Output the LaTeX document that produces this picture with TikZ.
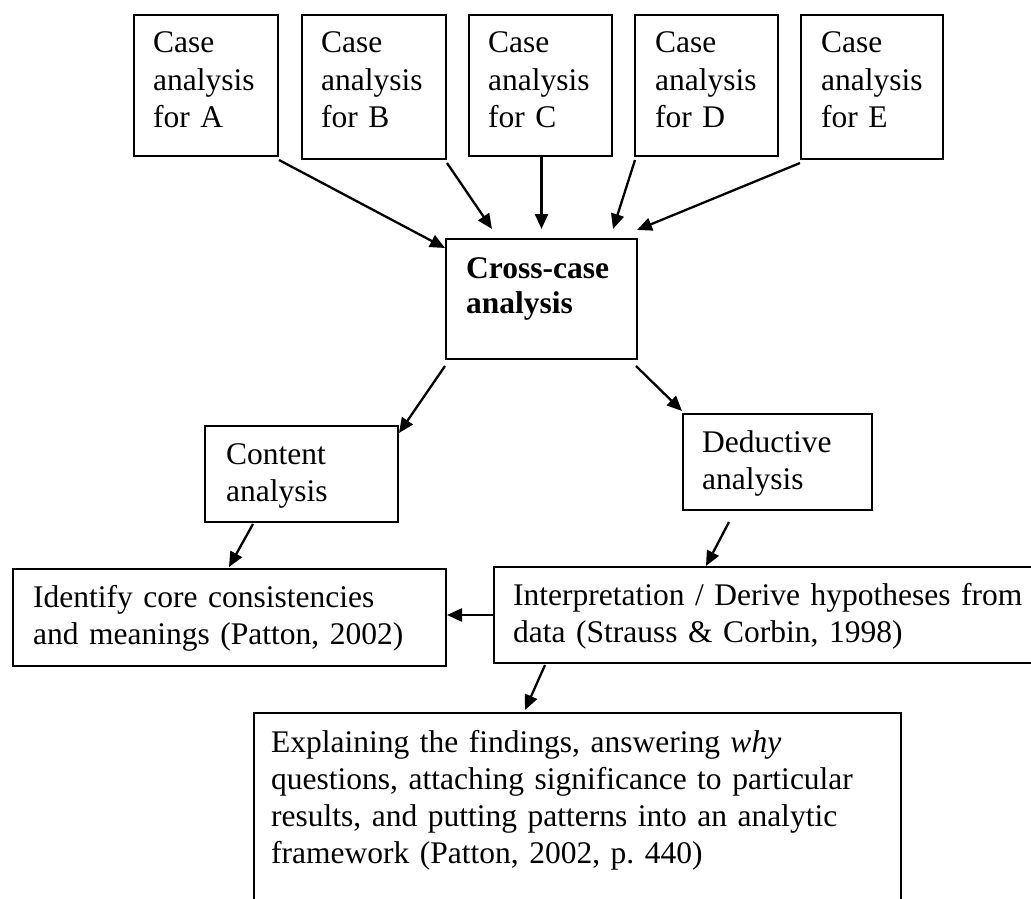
\documentclass[tikz,border=0pt]{standalone}
\usepackage{fontspec}
\setmainfont{Liberation Serif}
\usetikzlibrary{arrows.meta}
\newcommand\diagfont{\fontsize{31.5}{37}\selectfont}
\frenchspacing
\begin{document}
\begin{tikzpicture}[x=1pt,y=-1pt,
  box/.style={draw=black,line width=2pt,inner sep=0pt,anchor=north west},
  txt/.style={anchor=base west,inner sep=0pt,align=left,text width=#1,font=\diagfont},
  txt/.default=200pt,
  arr/.style={line width=2.3pt,-{Triangle[length=15pt,width=13pt]}}]
\clip (0,0) rectangle (1031,899);

% upper row: one box per case
\node[box,minimum width=144pt,minimum height=141pt] (A) at (133,14) {};
\node[box,minimum width=144pt,minimum height=144pt] (B) at (301,14) {};
\node[box,minimum width=143pt,minimum height=141pt] (C) at (468,14) {};
\node[box,minimum width=143pt,minimum height=141pt] (D) at (634,14) {};
\node[box,minimum width=142pt,minimum height=144pt] (E) at (800,14) {};
\node[txt] (tA) at (153,53) {Case\\analysis\\for A};
\node[txt] (tB) at (321,53) {Case\\analysis\\for B};
\node[txt] (tC) at (488,53) {Case\\analysis\\for C};
\node[txt] (tD) at (655,53) {Case\\analysis\\for D};
\node[txt] (tE) at (821,53) {Case\\analysis\\for E};

% central box
\node[box,minimum width=191pt,minimum height=120pt] (X) at (445,238) {};
\node[txt,font=\fontsize{31.5}{35}\selectfont\bfseries] (tX) at (466,278) {Cross-case\\analysis};

% the two kinds of analysis
\node[box,minimum width=193pt,minimum height=96pt] (Co) at (204,425) {};
\node[txt] (tCo) at (226,464) {Content\\analysis};
\node[box,minimum width=189pt,minimum height=96pt] (De) at (682,413) {};
\node[txt] (tDe) at (702,452) {Deductive\\analysis};

% outcomes
\node[box,minimum width=433pt,minimum height=97pt] (Id) at (12,568) {};
\node[txt=420pt] (tId) at (33,607) {Identify core consistencies\\and meanings (Patton, 2002)};
\node[box,minimum width=547pt,minimum height=96pt] (In) at (493,566) {};
\node[txt=520pt] (tIn) at (513,605) {Interpretation / Derive hypotheses from\\data (Strauss \& Corbin, 1998)};
\node[box,minimum width=647pt,minimum height=220pt] (Ex) at (253,712) {};
\node[txt=620pt] (tEx) at (271,752) {Explaining the findings, answering \textit{why}\\questions, attaching significance to particular\\results, and putting patterns into an analytic\\framework (Patton, 2002, p. 440)};

% connectors
\draw[arr] ([shift={(0,3)}]A.south east) -- ([shift={(0,10)}]X.north west);
\draw[arr] ([shift={(0,3)}]B.south east) -- ([shift={(47,-9)}]X.north west);
\draw[arr] ([shift={(1,0)}]C.south) -- ([shift={(1,-9)}]C.south |- X.north);
\draw[arr] ([shift={(1,3)}]D.south west) -- ([shift={(-25,-9)}]X.north east);
\draw[arr] ([shift={(0,3)}]E.south west) -- ([shift={(-1,-8)}]X.north east);
\draw[arr] ([shift={(0,6)}]X.south west) -- ([shift={(0,8)}]Co.north east);
\draw[arr] ([shift={(-2,6)}]X.south east) -- ([shift={(0,-2)}]De.north west);
\draw[arr] ([shift={(49,1)}]Co.south west) -- ([shift={(217,-1)}]Id.north west);
\draw[arr] ([shift={(47,11)}]De.south west) -- ([shift={(213,0)}]In.north west);
\draw[arr] (In.west) -- (In.west -| Id.east);
\draw[arr] ([shift={(52,1)}]In.south west) -- ([shift={(272,-2)}]Ex.north west);
\end{tikzpicture}
\end{document}
